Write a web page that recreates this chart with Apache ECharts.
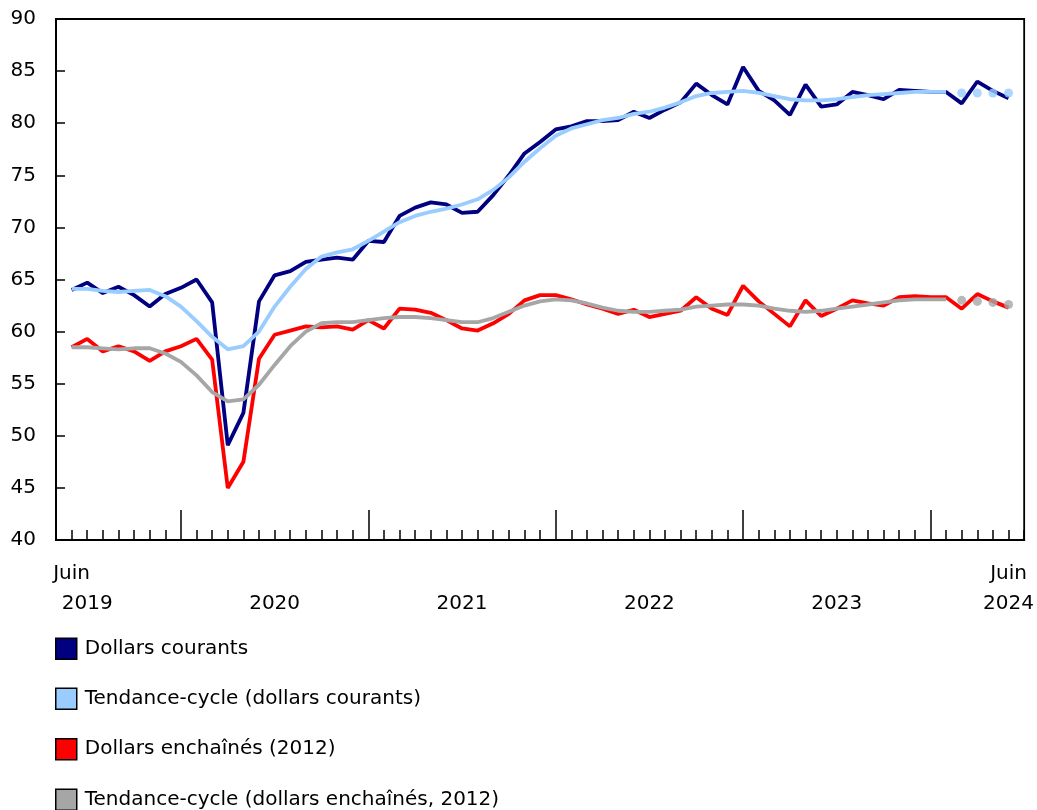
<!DOCTYPE html>
<html>
<head>
<meta charset="utf-8">
<script src="https://cdn.jsdelivr.net/npm/echarts@6/dist/echarts.min.js"></script>
<style>
html,body{margin:0;padding:0;background:#fff;}
#c{width:1037px;height:810px;}
</style>
</head>
<body>
<div id="c"></div>
<script>
// Monthly, June 2019 to June 2024
const startYear = 2019, startMonth = 6, nMonths = 61;
const categories = [];
for (let k = 0; k < nMonths; k++) {
  const m = (startMonth - 1 + k) % 12 + 1;
  const y = startYear + Math.floor((startMonth - 1 + k) / 12);
  categories.push(y + '-' + (m < 10 ? '0' + m : '' + m));
}

const seriesNames = [
  'Dollars courants',
  'Tendance-cycle (dollars courants)',
  'Dollars enchaînés (2012)',
  'Tendance-cycle (dollars enchaînés, 2012)'
];

const dollarsCourants = [
  64.0, 64.7, 63.7, 64.3, 63.5, 62.4, 63.6, 64.2, 65.0, 62.8,
  49.1, 52.2, 62.9, 65.4, 65.8, 66.7, 66.9, 67.1, 66.9, 68.7,
  68.6, 71.1, 71.9, 72.4, 72.2, 71.4, 71.5, 73.1, 75.0, 77.1,
  78.2, 79.4, 79.7, 80.2, 80.2, 80.3, 81.1, 80.5, 81.3, 82.0,
  83.8, 82.7, 81.8, 85.4, 83.1, 82.2, 80.8, 83.7, 81.6, 81.8,
  83.0, 82.7, 82.3, 83.2, 83.1, 83.0, 83.0, 81.9, 84.0, 83.1,
  82.4
];

const tendanceCourants = [
  64.1, 64.1, 63.9, 63.8, 63.9, 64.0, 63.4, 62.4, 61.0, 59.5,
  58.3, 58.6, 60.0, 62.4, 64.3, 66.0, 67.2, 67.6, 67.9, 68.7,
  69.6, 70.5, 71.1, 71.5, 71.8, 72.2, 72.7, 73.6, 74.8, 76.3,
  77.6, 78.8, 79.5, 79.9, 80.3, 80.5, 80.9, 81.1, 81.5, 82.0,
  82.6, 82.9, 83.0, 83.1, 82.9, 82.6, 82.3, 82.2, 82.2, 82.3,
  82.5, 82.7, 82.8, 82.9, 83.0, 83.0, 83.0, 82.9, 82.9, 82.9,
  82.9
];

const dollarsEnchaines = [
  58.5, 59.3, 58.1, 58.6, 58.1, 57.2, 58.1, 58.6, 59.3, 57.3,
  45.0, 47.5, 57.4, 59.7, 60.1, 60.5, 60.4, 60.5, 60.2, 61.1,
  60.3, 62.2, 62.1, 61.8, 61.1, 60.3, 60.1, 60.8, 61.7, 63.0,
  63.5, 63.5, 63.1, 62.6, 62.2, 61.7, 62.1, 61.4, 61.7, 62.0,
  63.3, 62.2, 61.6, 64.4, 62.9, 61.7, 60.5, 63.0, 61.5, 62.2,
  63.0, 62.7, 62.5, 63.3, 63.4, 63.3, 63.3, 62.2, 63.6, 62.9,
  62.3
];

const tendanceEnchaines = [
  58.5, 58.5, 58.4, 58.3, 58.4, 58.4, 57.9, 57.1, 55.8, 54.2,
  53.3, 53.5, 54.9, 56.8, 58.6, 60.0, 60.8, 60.9, 60.9, 61.1,
  61.3, 61.4, 61.4, 61.3, 61.1, 60.9, 60.9, 61.3, 61.9, 62.5,
  62.9, 63.1, 63.0, 62.7, 62.3, 62.0, 61.9, 61.9, 62.0, 62.1,
  62.4, 62.5, 62.6, 62.6, 62.5, 62.2, 62.0, 61.9, 62.0, 62.2,
  62.4, 62.6, 62.8, 63.0, 63.1, 63.1, 63.1, 63.0, 62.9, 62.8,
  62.6
];

// trend-cycle values from this index on are shown as dots only
const provisionalStart = 57;

const colors = ['#000080', '#99ccff', '#ff0000', '#a6a6a6'];
const FONT = 'DejaVu Sans';
const legendTops = [632.5, 682.5, 733, 783.5];

// padded category axis (one empty slot at each end)
const axisCats = [''].concat(categories, ['']);
const pad = arr => [null].concat(arr, [null]);
const solidPart = arr => pad(arr.map((v, i) => i < provisionalStart ? v : null));
const dotPart = arr => arr.map((v, i) => i >= provisionalStart ? [i + 1, v] : null).filter(d => d);

// year labels: centred under July of each year, and under the last month
const showYear = (index, value) => !!value && (value.slice(5) === '07' || index === nMonths);
const yearText = (value) => value ? value.slice(0, 4) : '';
// month labels: first and last month
const showMonth = (index, value) => !!value && (index === 1 || index === nMonths);
const monthText = () => 'Juin';

const chart = echarts.init(document.getElementById('c'), null, {renderer: 'canvas'});
const lineSeries = (name, data, color, z) => ({
  name: name, type: 'line', data: data, xAxisIndex: 0,
  showSymbol: false, symbol: 'none', smooth: false, connectNulls: false,
  lineStyle: {color: color, width: 3.8}, itemStyle: {color: color},
  color: color, z: z, animation: false
});
const dotSeries = (name, data, color, z) => ({
  name: name, type: 'scatter', data: data, xAxisIndex: 0,
  symbol: 'circle', symbolSize: 9, itemStyle: {color: color}, z: z, animation: false
});

const legends = seriesNames.map((n, i) => ({
  orient: 'vertical', left: 50, top: legendTops[i], itemWidth: 21, itemHeight: 21,
  icon: 'rect', selectedMode: false, data: [n], padding: 5,
  itemStyle: {borderColor: '#000', borderWidth: 1.5},
  textStyle: {fontFamily: FONT, fontSize: 20, color: '#000', padding: [0, 0, 0, 3], lineHeight: 21}
}));

chart.setOption({
  animation: false,
  backgroundColor: '#fff',
  textStyle: {fontFamily: FONT, color: '#000'},
  grid: {left: 56, right: 11, top: 19, bottom: 270, show: true, borderColor: '#000', borderWidth: 1.8, backgroundColor: 'transparent'},
  legend: legends,
  xAxis: [
    {
      type: 'category', data: axisCats, boundaryGap: false, position: 'bottom',
      axisLine: {show: true, lineStyle: {color: '#000', width: 2}},
      axisTick: {show: true, inside: true, length: 10, interval: 0, lineStyle: {color: '#000', width: 1.5}},
      axisLabel: {
        show: true, interval: showYear, formatter: yearText, margin: 49.5, hideOverlap: false,
        fontFamily: FONT, fontSize: 20, color: '#000', lineHeight: 28
      },
      splitLine: {show: false}
    },
    {
      type: 'category', data: axisCats, boundaryGap: false, position: 'bottom',
      axisLine: {show: false},
      axisTick: {show: true, inside: true, length: 30,
        interval: (index, value) => !!value && value.slice(5) === '01',
        lineStyle: {color: '#000', width: 1.5}},
      axisLabel: {
        show: true, interval: showMonth, formatter: monthText, margin: 20, hideOverlap: false,
        fontFamily: FONT, fontSize: 20, color: '#000', lineHeight: 28
      },
      splitLine: {show: false}
    }
  ],
  yAxis: {
    type: 'value', min: 40, max: 90, interval: 5,
    axisLine: {show: true, lineStyle: {color: '#000', width: 2}},
    axisTick: {show: true, inside: true, length: 9, lineStyle: {color: '#000', width: 1.5}},
    axisLabel: {fontFamily: FONT, fontSize: 20, color: '#000', margin: 20},
    splitLine: {show: false}
  },
  series: [
    lineSeries(seriesNames[0], pad(dollarsCourants), colors[0], 3),
    lineSeries(seriesNames[1], solidPart(tendanceCourants), colors[1], 4),
    dotSeries('prov1', dotPart(tendanceCourants), colors[1], 4),
    lineSeries(seriesNames[2], pad(dollarsEnchaines), colors[2], 3),
    lineSeries(seriesNames[3], solidPart(tendanceEnchaines), colors[3], 4),
    dotSeries('prov2', dotPart(tendanceEnchaines), colors[3], 4)
  ]
});
</script>
</body>
</html>
